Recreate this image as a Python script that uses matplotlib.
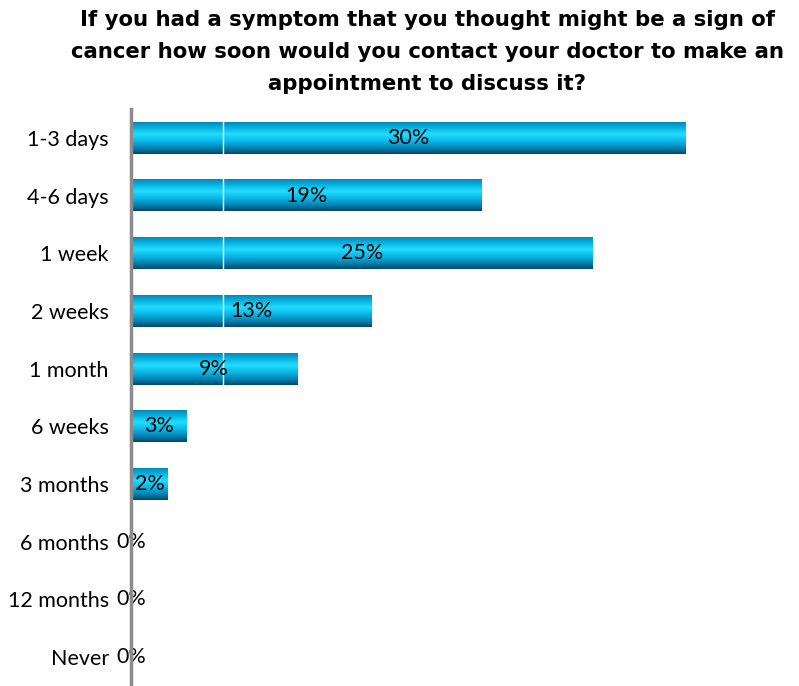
import numpy as np
import matplotlib.pyplot as plt
from matplotlib.colors import LinearSegmentedColormap

plt.rcParams['font.family'] = ['Lato', 'DejaVu Sans']

# 回答カテゴリと割合(%)
categories = ["1-3 days", "4-6 days", "1 week", "2 weeks", "1 month",
              "6 weeks", "3 months", "6 months", "12 months", "Never"]
values = [30, 19, 25, 13, 9, 3, 2, 0, 0, 0]

title = ("If you had a symptom that you thought might be a sign of\n"
         "cancer how soon would you contact your doctor to make an\n"
         "appointment to discuss it?")

# 棒の縦グラデーション(上→下)
grad = LinearSegmentedColormap.from_list("bar", [
    (0.00, "#0a86b4"),
    (0.12, "#00a8d8"),
    (0.38, "#22dcff"),
    (0.60, "#0cb6e6"),
    (0.82, "#0084b2"),
    (1.00, "#03486a"),
])

fig = plt.figure(figsize=(7.99, 6.86), dpi=100)
ax = fig.add_axes([131 / 799, 0, 668 / 799, 577 / 686])

y = np.arange(len(categories))
bars = ax.barh(y, values, height=0.55, color="none", edgecolor="none")

ax.set_xlim(0, 668 / 18.47)
ax.set_ylim(len(categories) - 0.5, -0.5)

img = np.linspace(0, 1, 64).reshape(-1, 1)
for b in bars:
    w = b.get_width()
    if w <= 0:
        continue
    y0 = b.get_y()
    h = b.get_height()
    ax.imshow(img, cmap=grad, aspect="auto", interpolation="bilinear",
              extent=(0, w, y0 + h, y0), zorder=2)

# 白い目盛線(5%)
ax.axvline(5, color="white", lw=1.0, zorder=3)

# ラベル(棒の中央)
for b, v in zip(bars, values):
    yc = b.get_y() + b.get_height() / 2
    xc = b.get_width() / 2
    ax.text(xc, yc, "{}%".format(v), ha="center", va="center",
            fontsize=15.5, color="black", zorder=4)

ax.set_yticks(y)
ax.set_yticklabels(categories, fontsize=15.5)
ax.tick_params(axis="y", length=0, pad=16)
ax.set_xticks([])

for s in ["top", "right", "bottom"]:
    ax.spines[s].set_visible(False)
ax.spines["left"].set_color("#8c8c8c")
ax.spines["left"].set_linewidth(2.5)
ax.spines["left"].set_zorder(5)

fig.text(0.535, 0.986, title, ha="center", va="top", fontsize=15.3,
         fontweight="bold", linespacing=1.75, family="DejaVu Sans")

fig.savefig("out.png", dpi=100)
